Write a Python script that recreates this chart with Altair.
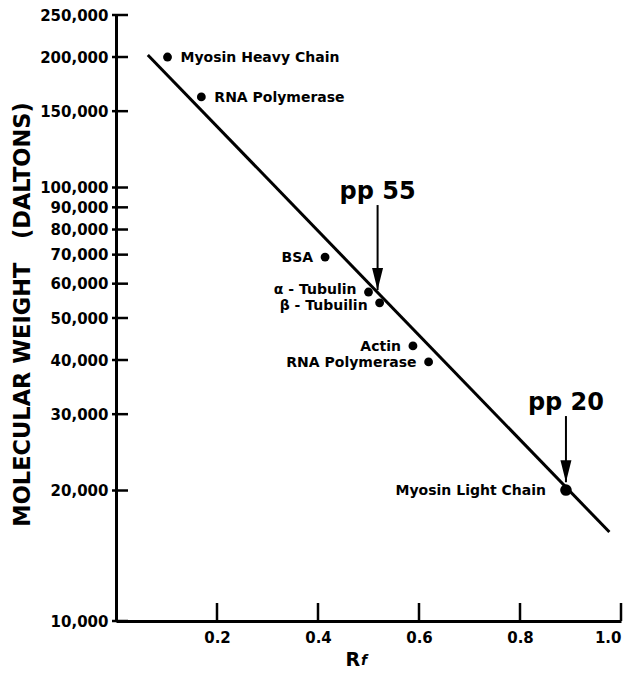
import altair as alt
import pandas as pd

# ---- data ----
proteins = ["Myosin Heavy Chain", "RNA Polymerase", "BSA", "α - Tubulin",
            "β - Tubuilin", "Actin", "RNA Polymerase", "Myosin Light Chain"]
rf_values = [0.102, 0.169, 0.414, 0.500, 0.522, 0.588, 0.619, 0.891]
mw_values = [200000, 161800, 69100, 57400, 54200, 43100, 39600, 20050]
label_side = ["right", "right", "left", "left_up", "left_down", "left", "left", "far"]

fit_rf = [0.063, 0.977]
fit_mw = [202200, 16040]

arrow_labels = ["pp 55", "pp 20"]
arrow_rf = [0.518, 0.891]
arrow_tail_mw = [91100, 29700]
arrow_tip_mw = [58000, 20900]

y_ticks = [10000, 20000, 30000, 40000, 50000, 60000, 70000, 80000, 90000,
           100000, 150000, 200000, 250000]
x_ticks = [0.2, 0.4, 0.6, 0.8, 1.0]

W, H = 505, 606
FONT = "DejaVu Sans"

pts = pd.DataFrame({"name": proteins, "rf": rf_values, "mw": mw_values, "side": label_side})
fit = pd.DataFrame({"rf": fit_rf, "mw": fit_mw})
arrows = pd.DataFrame({"label": arrow_labels, "rf": arrow_rf,
                       "mw": arrow_tail_mw, "mw2": arrow_tip_mw})
ytk = pd.DataFrame({"mw": y_ticks})
xtk = pd.DataFrame({"rf": x_ticks})
sub = pd.DataFrame({"t": ["f"]})

X = alt.X("rf:Q",
          scale=alt.Scale(domain=[0, 1], nice=False, zero=False),
          axis=alt.Axis(values=x_ticks, format=".1f", ticks=False, grid=False,
                        domainWidth=3, domainColor="black",
                        labelFont=FONT, labelFontSize=15, labelFontWeight="bold",
                        labelColor="black", labelPadding=9,
                        title="R", titleFont=FONT, titleFontSize=19,
                        titleFontWeight="bold", titleColor="black",
                        titleX=229, titleY=44, titleAlign="left",
                        titleBaseline="alphabetic", titleAngle=0))
Y = alt.Y("mw:Q",
          scale=alt.Scale(type="log", domain=[10000, 250000], nice=False),
          axis=alt.Axis(values=y_ticks, format=",", ticks=False, grid=False,
                        domainWidth=3, domainColor="black",
                        labelFont=FONT, labelFontSize=15, labelFontWeight="bold",
                        labelColor="black", labelPadding=8,
                        title="MOLECULAR WEIGHT\u00a0\u00a0 (DALTONS)", titleFont=FONT,
                        titleFontSize=22.5, titleFontWeight="bold", titleColor="black",
                        titleX=-94, titleY=299, titleAlign="center",
                        titleBaseline="middle", titleAngle=270))

ytick_rules = alt.Chart(ytk).mark_rule(color="black", strokeWidth=2.5).encode(
    y=Y, x=alt.value(-4), x2=alt.value(12))
xtick_rules = alt.Chart(xtk).mark_rule(color="black", strokeWidth=2.5).encode(
    x=X, y=alt.value(H - 18), y2=alt.value(H))

line = alt.Chart(fit).mark_line(color="black", strokeWidth=3).encode(x=X, y=Y)

dots = alt.Chart(pts).mark_circle(color="black", opacity=1).encode(
    x=X, y=Y,
    size=alt.condition(alt.datum.side == "far", alt.value(135), alt.value(78)))

lab_style = dict(font=FONT, fontSize=14, fontWeight="bold", color="black", baseline="middle")


def labels(side, align, dx, dy):
    return alt.Chart(pts).transform_filter(alt.datum.side == side).mark_text(
        align=align, dx=dx, dy=dy, **lab_style).encode(x=X, y=Y, text="name:N")


lab_right = labels("right", "left", 13, 1)
lab_left = labels("left", "right", -12, 1)
lab_up = labels("left_up", "right", -12, -2)
lab_down = labels("left_down", "right", -12, 3)
lab_far = labels("far", "right", -20, 1)

shaft = alt.Chart(arrows).mark_rule(color="black", strokeWidth=2).encode(
    x=X, y=Y, y2="mw2:Q")
head = alt.Chart(arrows).mark_point(
    shape="M-0.25,-1L0.25,-1L0,0Z", size=1936, filled=True,
    color="black", opacity=1, strokeWidth=0).encode(
    x=X, y=alt.Y("mw2:Q", scale=alt.Scale(type="log", domain=[10000, 250000], nice=False)))
arrow_text = alt.Chart(arrows).mark_text(
    font=FONT, fontSize=24, fontWeight="bold", color="black",
    align="center", baseline="alphabetic", dy=-6).encode(x=X, y=Y, text="label:N")

sub_f = alt.Chart(sub).mark_text(
    font=FONT, fontSize=14, fontWeight="bold", fontStyle="italic",
    color="black", align="left", baseline="alphabetic").encode(
    x=alt.value(245), y=alt.value(650), text="t:N")

chart = alt.layer(
    line, ytick_rules, xtick_rules, dots, lab_right, lab_left, lab_up, lab_down,
    lab_far, shaft, head, arrow_text, sub_f
).properties(
    width=W, height=H,
    autosize=alt.AutoSizeParams(type="none"),
    padding={"left": 108, "top": 7, "right": 8, "bottom": 48},
    background="white",
).configure_view(stroke=None)

chart.save("out.html", embed_options={"renderer": "svg", "actions": False})
